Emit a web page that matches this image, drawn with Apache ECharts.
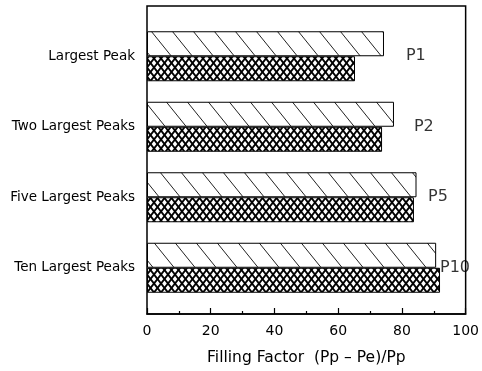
<!DOCTYPE html>
<html>
<head>
<meta charset="utf-8">
<script src="https://cdn.jsdelivr.net/npm/echarts@6/dist/echarts.min.js"></script>
<style>html,body{margin:0;padding:0;background:#fff;}#c{width:482px;height:371px;}</style>
</head>
<body>
<div id="c"></div>
<script>
var categories = ['Largest Peak', 'Two Largest Peaks', 'Five Largest Peaks', 'Ten Largest Peaks'];
var hatchedValues = [73.6, 76.7, 83.7, 89.8];
var crossValues = [64.6, 73.0, 82.9, 91.0];
var peakLabels = ['P1', 'P2', 'P5', 'P10'];
var peakLabelX = [80.4, 82.9, 87.3, 91.0];
var xTicks = [0, 20, 40, 60, 80, 100];

function hatchPattern() {
  var w = 21, h = 26;
  var c = document.createElement('canvas');
  c.width = w; c.height = h;
  var g = c.getContext('2d');
  g.fillStyle = '#fff'; g.fillRect(0, 0, w, h);
  g.strokeStyle = '#222'; g.lineWidth = 1;
  [-w, 0, w].forEach(function (x0) {
    g.beginPath(); g.moveTo(x0, 0); g.lineTo(x0 + w, h); g.stroke();
  });
  return c;
}
function crossPattern() {
  var pw = 7, ph = 9;
  var c = document.createElement('canvas');
  c.width = pw; c.height = ph;
  var g = c.getContext('2d');
  g.fillStyle = '#000'; g.fillRect(0, 0, pw, ph);
  g.fillStyle = '#fff';
  function diamond(cx, cy, rx, ry) {
    g.beginPath();
    g.moveTo(cx, cy - ry); g.lineTo(cx + rx, cy); g.lineTo(cx, cy + ry); g.lineTo(cx - rx, cy);
    g.closePath(); g.fill();
  }
  var rx = 2.3, ry = 2.9;
  diamond(pw / 2, ph / 2, rx, ry);
  diamond(0, 0, rx, ry); diamond(pw, 0, rx, ry); diamond(0, ph, rx, ry); diamond(pw, ph, rx, ry);
  return c;
}

var chart = echarts.init(document.getElementById('c'), null, {renderer: 'canvas'});
var font = 'DejaVu Sans';
chart.setOption({
  animation: false,
  backgroundColor: '#fff',
  grid: [
    {left: 147, right: 13, top: 6, bottom: 55, show: true, borderColor: '#000', borderWidth: 1.5, backgroundColor: 'transparent'},
    {left: 147, right: 13, top: 21, bottom: 68}
  ],
  xAxis: [
    {
      gridIndex: 0, type: 'value', min: xTicks[0], max: xTicks[xTicks.length - 1], interval: 20,
      axisLine: {show: true, lineStyle: {color: '#000', width: 1.5}},
      axisTick: {show: true, inside: true, length: 6, lineStyle: {color: '#000', width: 1.2}},
      minorTick: {show: true, splitNumber: 2, length: 3, lineStyle: {color: '#000', width: 1.2}},
      splitLine: {show: false},
      axisLabel: {color: '#000', fontSize: 14, fontFamily: font, margin: 10},
      name: 'Filling Factor  (Pp \u2013 Pe)/Pp', nameLocation: 'middle', nameGap: 36,
      nameTextStyle: {color: '#000', fontSize: 15.5, fontFamily: font}
    },
    {gridIndex: 1, type: 'value', min: 0, max: 100, show: false}
  ],
  yAxis: [
    {gridIndex: 0, type: 'value', min: 0, max: 1, show: false},
    {
      gridIndex: 1, type: 'category', inverse: true, data: categories,
      axisLine: {show: false}, axisTick: {show: false},
      axisLabel: {color: '#000', fontSize: 13.5, fontFamily: font, margin: 12}
    }
  ],
  series: [
    {
      type: 'bar', xAxisIndex: 1, yAxisIndex: 1, data: hatchedValues, barWidth: 25, barGap: '0%',
      itemStyle: {color: {image: hatchPattern(), repeat: 'repeat'}, borderColor: '#000', borderWidth: 1}
    },
    {
      type: 'bar', xAxisIndex: 1, yAxisIndex: 1, data: crossValues, barWidth: 25, barGap: '0%',
      itemStyle: {color: {image: crossPattern(), repeat: 'repeat'}, borderColor: '#000', borderWidth: 1}
    },
    {
      type: 'scatter', xAxisIndex: 1, yAxisIndex: 1, symbolSize: 0,
      data: peakLabelX.map(function (x, i) { return [x, categories[i]]; }),
      label: {
        show: true, position: 'right', distance: 0, color: '#000', fontSize: 16, fontFamily: font,
        formatter: function (p) { return peakLabels[p.dataIndex]; }
      },
      z: 5
    }
  ]
});
</script>
</body>
</html>
